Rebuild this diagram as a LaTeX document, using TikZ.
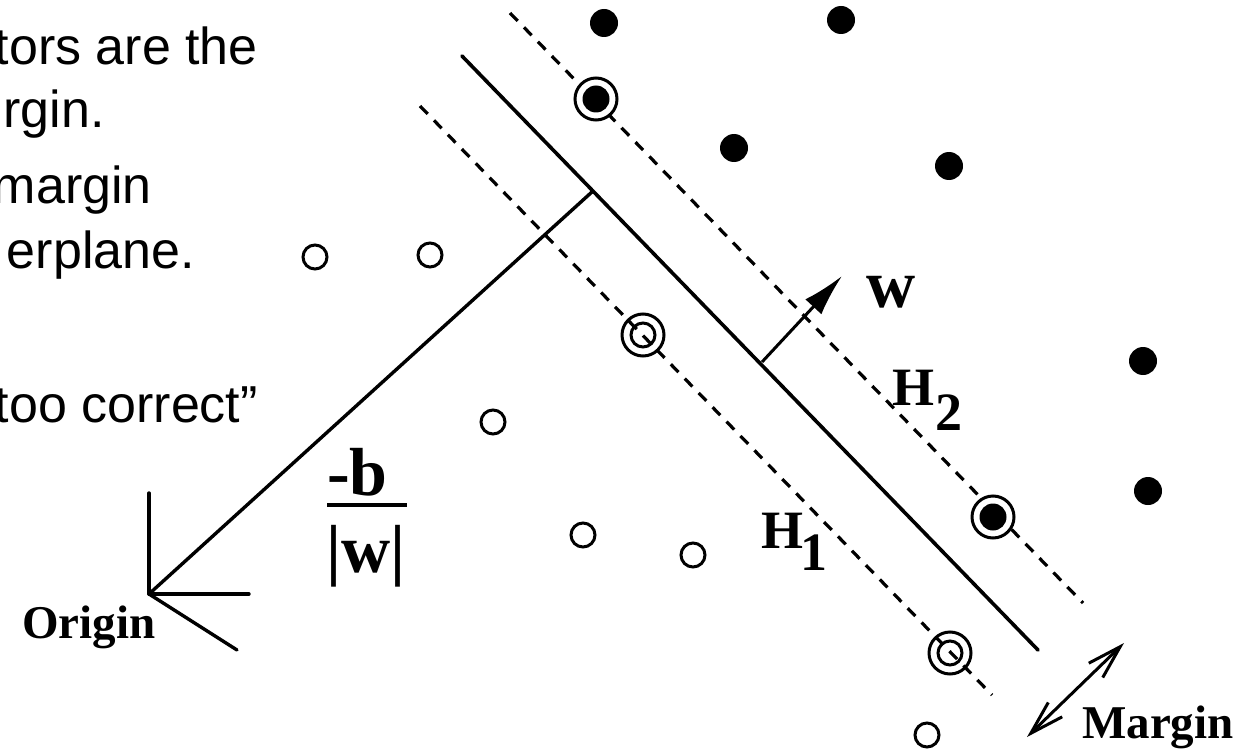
\documentclass[tikz,border=0pt]{standalone}
\usepackage{fontspec}
\setmainfont{Liberation Serif}
\newfontfamily\arialfont{Liberation Sans}
\usetikzlibrary{arrows.meta}
\begin{document}
\begin{tikzpicture}[x=1pt,y=-1pt,
  hyper/.style={line width=3.6pt,line cap=round},
  marg/.style={line width=3.2pt,dash pattern=on 11pt off 9pt},
  thin/.style={line width=3.4pt,line cap=round},
  fdot/.style={circle,fill=black,inner sep=0pt,minimum size=28pt},
  svdot/.style={circle,fill=black,inner sep=0pt,minimum size=27pt},
  odot/.style={circle,draw=black,line width=3pt,inner sep=0pt,minimum size=24pt},
  svring/.style={circle,draw=black,line width=3pt,inner sep=0pt,minimum size=42pt},
  lefttext/.style={font=\arialfont\fontsize{52}{60}\selectfont,inner sep=0pt,anchor=base east},
  lab/.style={font=\fontsize{47}{50}\selectfont\bfseries,inner sep=0pt,anchor=base west},
  biglab/.style={font=\fontsize{68}{70}\selectfont\bfseries,inner sep=0pt,anchor=base west},
  hlab/.style={font=\fontsize{54}{56}\selectfont\bfseries,inner sep=0pt,anchor=base west}
]
\useasboundingbox (0,0) rectangle (1242,749);
\clip (0,0) rectangle (1242,749);

% left text (cropped slide text)
\node[lefttext] (t1) at (258,65) {tors are the};
\node[lefttext] (t2) at (105,128) {rgin.};
\node[lefttext] (t3) at (152,203) {margin};
\node[lefttext] (t4) at (195,268) {erplane.};
\node[lefttext] (t5) at (258,422) {too correct”};

% key coordinates
\coordinate (s1) at (462,56);
\coordinate (s2) at (1038,650);
\coordinate (h2a) at (510,13);
\coordinate (h2b) at (1083,603);
\coordinate (h1a) at (420,106);
\coordinate (h1b) at (992,695);
\coordinate (foot) at (593,191);
\coordinate (O) at (149,594);
\coordinate (Oup) at (149,493);
\coordinate (Oright) at (249,594);
\coordinate (Odiag) at (237,650);
\coordinate (wfoot) at (762,362);
\coordinate (wtip) at (842,276);
\coordinate (m1) at (1027,737);
\coordinate (m2) at (1124,643);

% hyperplanes
\draw[hyper] (s1) -- (s2);
\draw[marg] (h2a) -- (h2b);
\draw[marg] (h1a) -- (h1b);

% distance to origin
\draw[thin] (foot) -- (O);
\draw[thin] (O) -- (Oup);
\draw[thin] (O) -- (Oright);
\draw[thin] (O) -- (Odiag);

% normal vector w
\draw[line width=3pt,-{Latex[length=42pt,width=22pt]}] (wfoot) -- (wtip);

% margin arrow
\draw[line width=3pt,{Straight Barb[length=34pt,width=20pt]}-{Straight Barb[length=34pt,width=20pt]}] (m1) -- (m2);

% filled points
\node[fdot] (p1) at (604,23) {};
\node[fdot] (p2) at (841,20) {};
\node[fdot] (p3) at (734,148) {};
\node[fdot] (p4) at (949,166) {};
\node[fdot] (p5) at (1143,361) {};
\node[fdot] (p6) at (1148,491) {};
% filled support vectors
\node[svring,fill=white] (sv1r) at (596,99) {};
\node[svdot] (sv1) at (596,99) {};
\node[svring,fill=white] (sv2r) at (993,517) {};
\node[svdot] (sv2) at (993,517) {};

% open points
\node[odot] (n1) at (315,257) {};
\node[odot] (n2) at (430,255) {};
\node[odot] (n3) at (493,422) {};
\node[odot] (n4) at (583,535) {};
\node[odot] (n5) at (693,555) {};
\node[odot] (n6) at (927,735) {};
% open support vectors
\node[svring] (sv3r) at (643,335) {};
\node[odot] (sv3) at (643,335) {};
\node[svring] (sv4r) at (950,653) {};
\node[odot] (sv4) at (950,653) {};

% labels
\node[lab] (origin) at (22,638) {Origin};
\node[lab] (margin) at (1082,738) {Margin};
\node[biglab] (wl) at (866,307) {w};
\node[hlab] (H2) at (892,405) {H\kern1pt\raisebox{-25pt}{2}};
\node[hlab] (H1) at (761,548) {H\kern-3pt\raisebox{-22pt}{1}};

% -b / |w|
\node[biglab] (mb) at (327,495) {-b};
\coordinate (fb1) at (327,505);
\coordinate (fb2) at (407,505);
\draw[line width=3.2pt] (fb1) -- (fb2);
\node[biglab] (absw) at (326,572) {|w|};
\end{tikzpicture}
\end{document}
